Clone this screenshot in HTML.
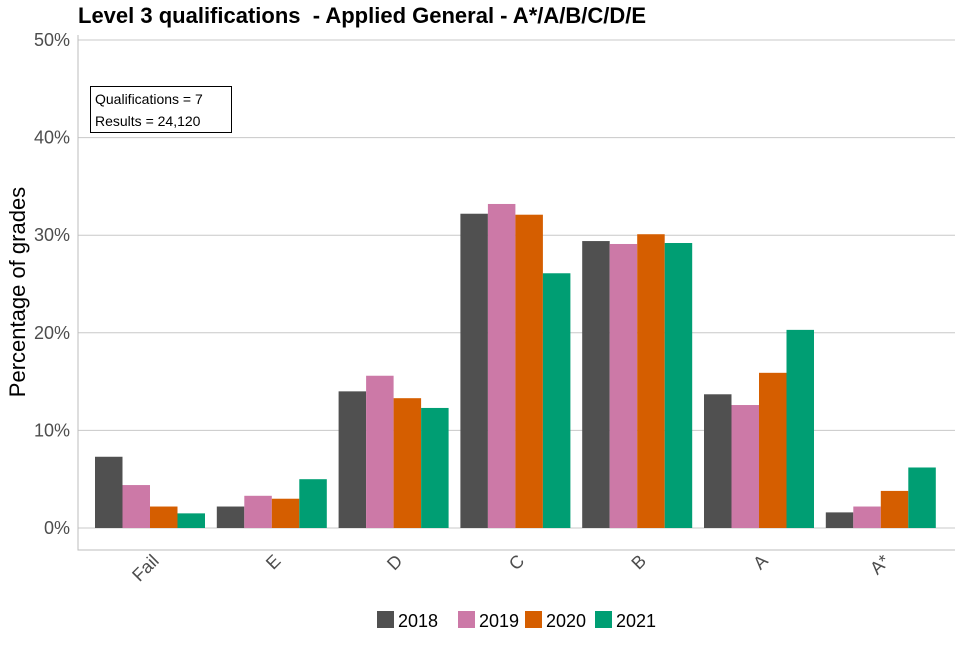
<!DOCTYPE html>
<html><head><meta charset="utf-8"><style>
body{margin:0;background:#fff;font-family:"Liberation Sans",Arial,sans-serif}
svg text{font-family:"Liberation Sans",Arial,sans-serif}
</style></head><body>
<svg id="chart" width="960" height="640"></svg>
<script>
const categories=["Fail","E","D","C","B","A","A*"];
const years=["2018","2019","2020","2021"];
const s2018=[7.3,2.2,14.0,32.2,29.4,13.7,1.6];
const s2019=[4.4,3.3,15.6,33.2,29.1,12.6,2.2];
const s2020=[2.2,3.0,13.3,32.1,30.1,15.9,3.8];
const s2021=[1.5,5.0,12.3,26.1,29.2,20.3,6.2];
const yTicks=[0,10,20,30,40,50];
const colors=["#505050","#cc79a7","#d55e00","#009e73"];
const series=[s2018,s2019,s2020,s2021];
const NS="http://www.w3.org/2000/svg";
const svg=document.getElementById("chart");
function el(t,a,p){const e=document.createElementNS(NS,t);for(const k in a)e.setAttribute(k,a[k]);(p||svg).appendChild(e);return e;}
const x0=78,x1=955,yZero=528,pxPer=9.76;
function y(v){return yZero-v*pxPer;}
const step=121.8;
function xc(i){return 150+step*i;}
const bw=27.5;
yTicks.forEach(t=>{
 const g=el("line",{x1:x0,x2:x1,y1:y(t),y2:y(t),stroke:"#c8c8c8","stroke-width":1});
 
 
 const l=el("text",{x:70,y:y(t)+6,"text-anchor":"end","font-size":18,fill:"#4d4d4d"});
 l.textContent=t+"%";
 
 
});
const ax=el("path",{d:`M${x0} 35V550H${x1}`,fill:"none",stroke:"#bdbdbd","stroke-width":1});


series.forEach((s,j)=>{
 s.forEach((v,i)=>{
  const r=el("rect",{x:xc(i)-2*bw+j*bw,y:y(v),width:bw,height:v*pxPer,fill:colors[j]});
  
  
 });
});
categories.forEach((c,i)=>{
 const t=el("text",{x:0,y:0,"text-anchor":"end","font-size":18,fill:"#4d4d4d",transform:`translate(${xc(i)+10},${562}) rotate(-45)`});
 t.textContent=c;
 
 
});
const lx=[377,458,525,595];
years.forEach((yr,j)=>{
 const r=el("rect",{x:lx[j],y:611,width:17,height:17,fill:colors[j]});
 
 
 const t=el("text",{x:lx[j]+21,y:627,"font-size":18,fill:"#000"});
 t.textContent=yr;
 
 
});
</script>
<div style="position:absolute;left:78px;top:3px;font-size:22px;font-weight:bold;color:#000;white-space:nowrap">Level 3 qualifications&nbsp; - Applied General - A*/A/B/C/D/E</div>
<div style="position:absolute;left:-102px;top:279px;width:240px;text-align:center;font-size:22px;transform:rotate(-90deg);color:#000;white-space:nowrap">Percentage of grades</div>
<div style="position:absolute;left:90px;top:86px;border:1px solid #000;font-size:14px;line-height:22px;padding-left:4px;box-sizing:border-box;width:142px;height:47px;padding-top:1px">Qualifications = 7<br>Results = 24,120</div>
</body></html>
